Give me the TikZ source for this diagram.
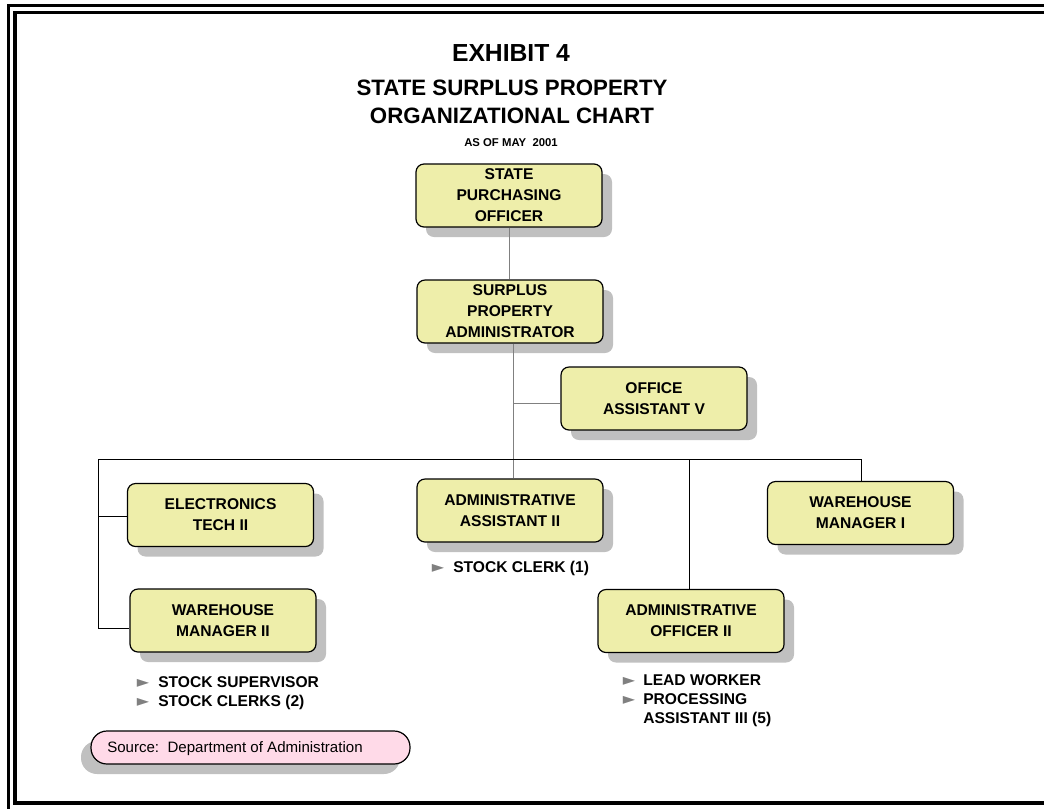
\documentclass[tikz,border=0pt]{standalone}
\usepackage{fontspec}
\setmainfont{Liberation Sans}
\newfontfamily\dejavu{DejaVu Sans}
\usetikzlibrary{shadows,calc}
\definecolor{boxfill}{RGB}{238,238,170}
\definecolor{shadowgray}{RGB}{192,192,192}
\definecolor{srcpink}{RGB}{255,218,232}
\definecolor{lgray}{RGB}{128,128,128}
\newcommand\bxfont{\fontsize{11.7}{15.75}\selectfont\bfseries}
\tikzset{
  posbox/.style={draw=black, line width=0.9pt, fill=boxfill, rounded corners=6pt,
    minimum width=139.5pt, minimum height=47.25pt, inner sep=0pt, align=center, font=\bxfont,
    drop shadow={shadow xshift=7.5pt, shadow yshift=-7.5pt, fill=shadowgray, opacity=1}},
  srcshape/.style={draw=black, line width=0.9pt, fill=srcpink, rounded corners=12pt,
    minimum width=239.25pt, minimum height=24.75pt, inner sep=0pt,
    drop shadow={shadow xshift=-7.5pt, shadow yshift=-7.5pt, fill=shadowgray, opacity=1}},
  gline/.style={draw=lgray, line width=0.75pt},
  bline/.style={draw=black, line width=0.75pt},
  ttl/.style={inner sep=0pt, text height=.72em, text depth=0pt},
  bul/.style={inner sep=0pt, anchor=west, text height=.72em, text depth=0pt, font=\bxfont},
  arr/.style={inner sep=0pt, text=lgray, font=\dejavu\fontsize{12}{12}\selectfont},
}
\begin{document}
\begin{tikzpicture}[x=0.75pt,y=-0.75pt]
\useasboundingbox (0,0) rectangle (1044,808);
\begin{scope}
  \clip (0,0) rectangle (1044,808);
  \draw[line width=2.4pt] (8.3,5.5) rectangle (1100,850);
  \draw[line width=2.4pt] (15,12.7) rectangle (1090,803);
\end{scope}

% titles
\node[ttl, font=\fontsize{18.5}{18.5}\selectfont\bfseries] (t1) at (511,57) {EXHIBIT 4};
\node[ttl, font=\fontsize{16.7}{16.7}\selectfont\bfseries] (t2) at (512,91) {STATE SURPLUS PROPERTY};
\node[ttl, font=\fontsize{16.7}{16.7}\selectfont\bfseries] (t3) at (512,119) {ORGANIZATIONAL CHART};
\node[ttl, font=\fontsize{8.5}{8.5}\selectfont\bfseries] (t4) at (511,142) {AS OF MAY\ \ 2001};

% boxes
\node[posbox] (spo) at (509,195.5) {STATE\\PURCHASING\\OFFICER};
\node[posbox] (spa) at (510,311.5) {SURPLUS\\PROPERTY\\ADMINISTRATOR};
\node[posbox] (oa) at (654,398.5) {OFFICE\\ASSISTANT V};
\node[posbox] (et) at (220.5,515) {ELECTRONICS\\TECH II};
\node[posbox] (wm2) at (223,620.5) {WAREHOUSE\\MANAGER II};
\node[posbox] (aa2) at (510,510.5) {ADMINISTRATIVE\\ASSISTANT II};
\node[posbox] (wm1) at (860.5,513) {WAREHOUSE\\MANAGER I};
\node[posbox] (ao2) at (691,621) {ADMINISTRATIVE\\OFFICER II};

% connectors
\coordinate (busL) at (98,459);
\coordinate (busR) at (861,459);
\coordinate (aoj) at (689,459);
\coordinate (oay) at (0,403);
\coordinate (lb) at (98,628);
\coordinate (le) at (98,516);
\draw[gline] (spo.south) -- (spo.south |- spa.north);
\coordinate (sx) at ($(spa.south)+(3,0)$);
\draw[gline] (sx) -- (sx |- aa2.north);
\draw[gline] (sx |- oay) -- (oa.west |- oay);
\draw[bline] (busL) -- (busR) -- (busR |- wm1.north);
\draw[bline] (aoj) -- (aoj |- ao2.north);
\draw[bline] (busL) -- (lb) -- (lb -| wm2.west);
\draw[bline] (le) -- (le -| et.west);

% sub-lists
\node[arr] (a1) at (438,568) {►};
\node[bul] (b1) at (453,568) {STOCK CLERK (1)};
\node[arr] (a2) at (143,683) {►};
\node[bul] (b2) at (158,683) {STOCK SUPERVISOR};
\node[arr] (a3) at (143,702) {►};
\node[bul] (b3) at (158,702) {STOCK CLERKS (2)};
\node[arr] (a4) at (629,681) {►};
\node[bul] (b4) at (643,681) {LEAD WORKER};
\node[arr] (a5) at (629,700) {►};
\node[bul] (b5) at (643,700) {PROCESSING};
\node[bul] (b6) at (643,719) {ASSISTANT III (5)};

% source
\node[srcshape] (src) at (250.5,747.5) {};
\node[inner sep=0pt, anchor=west, text height=.72em, text depth=0pt, font=\fontsize{11.3}{13}\selectfont] (srct) at (107,748) {Source:\ \ Department of Administration};
\end{tikzpicture}
\end{document}
